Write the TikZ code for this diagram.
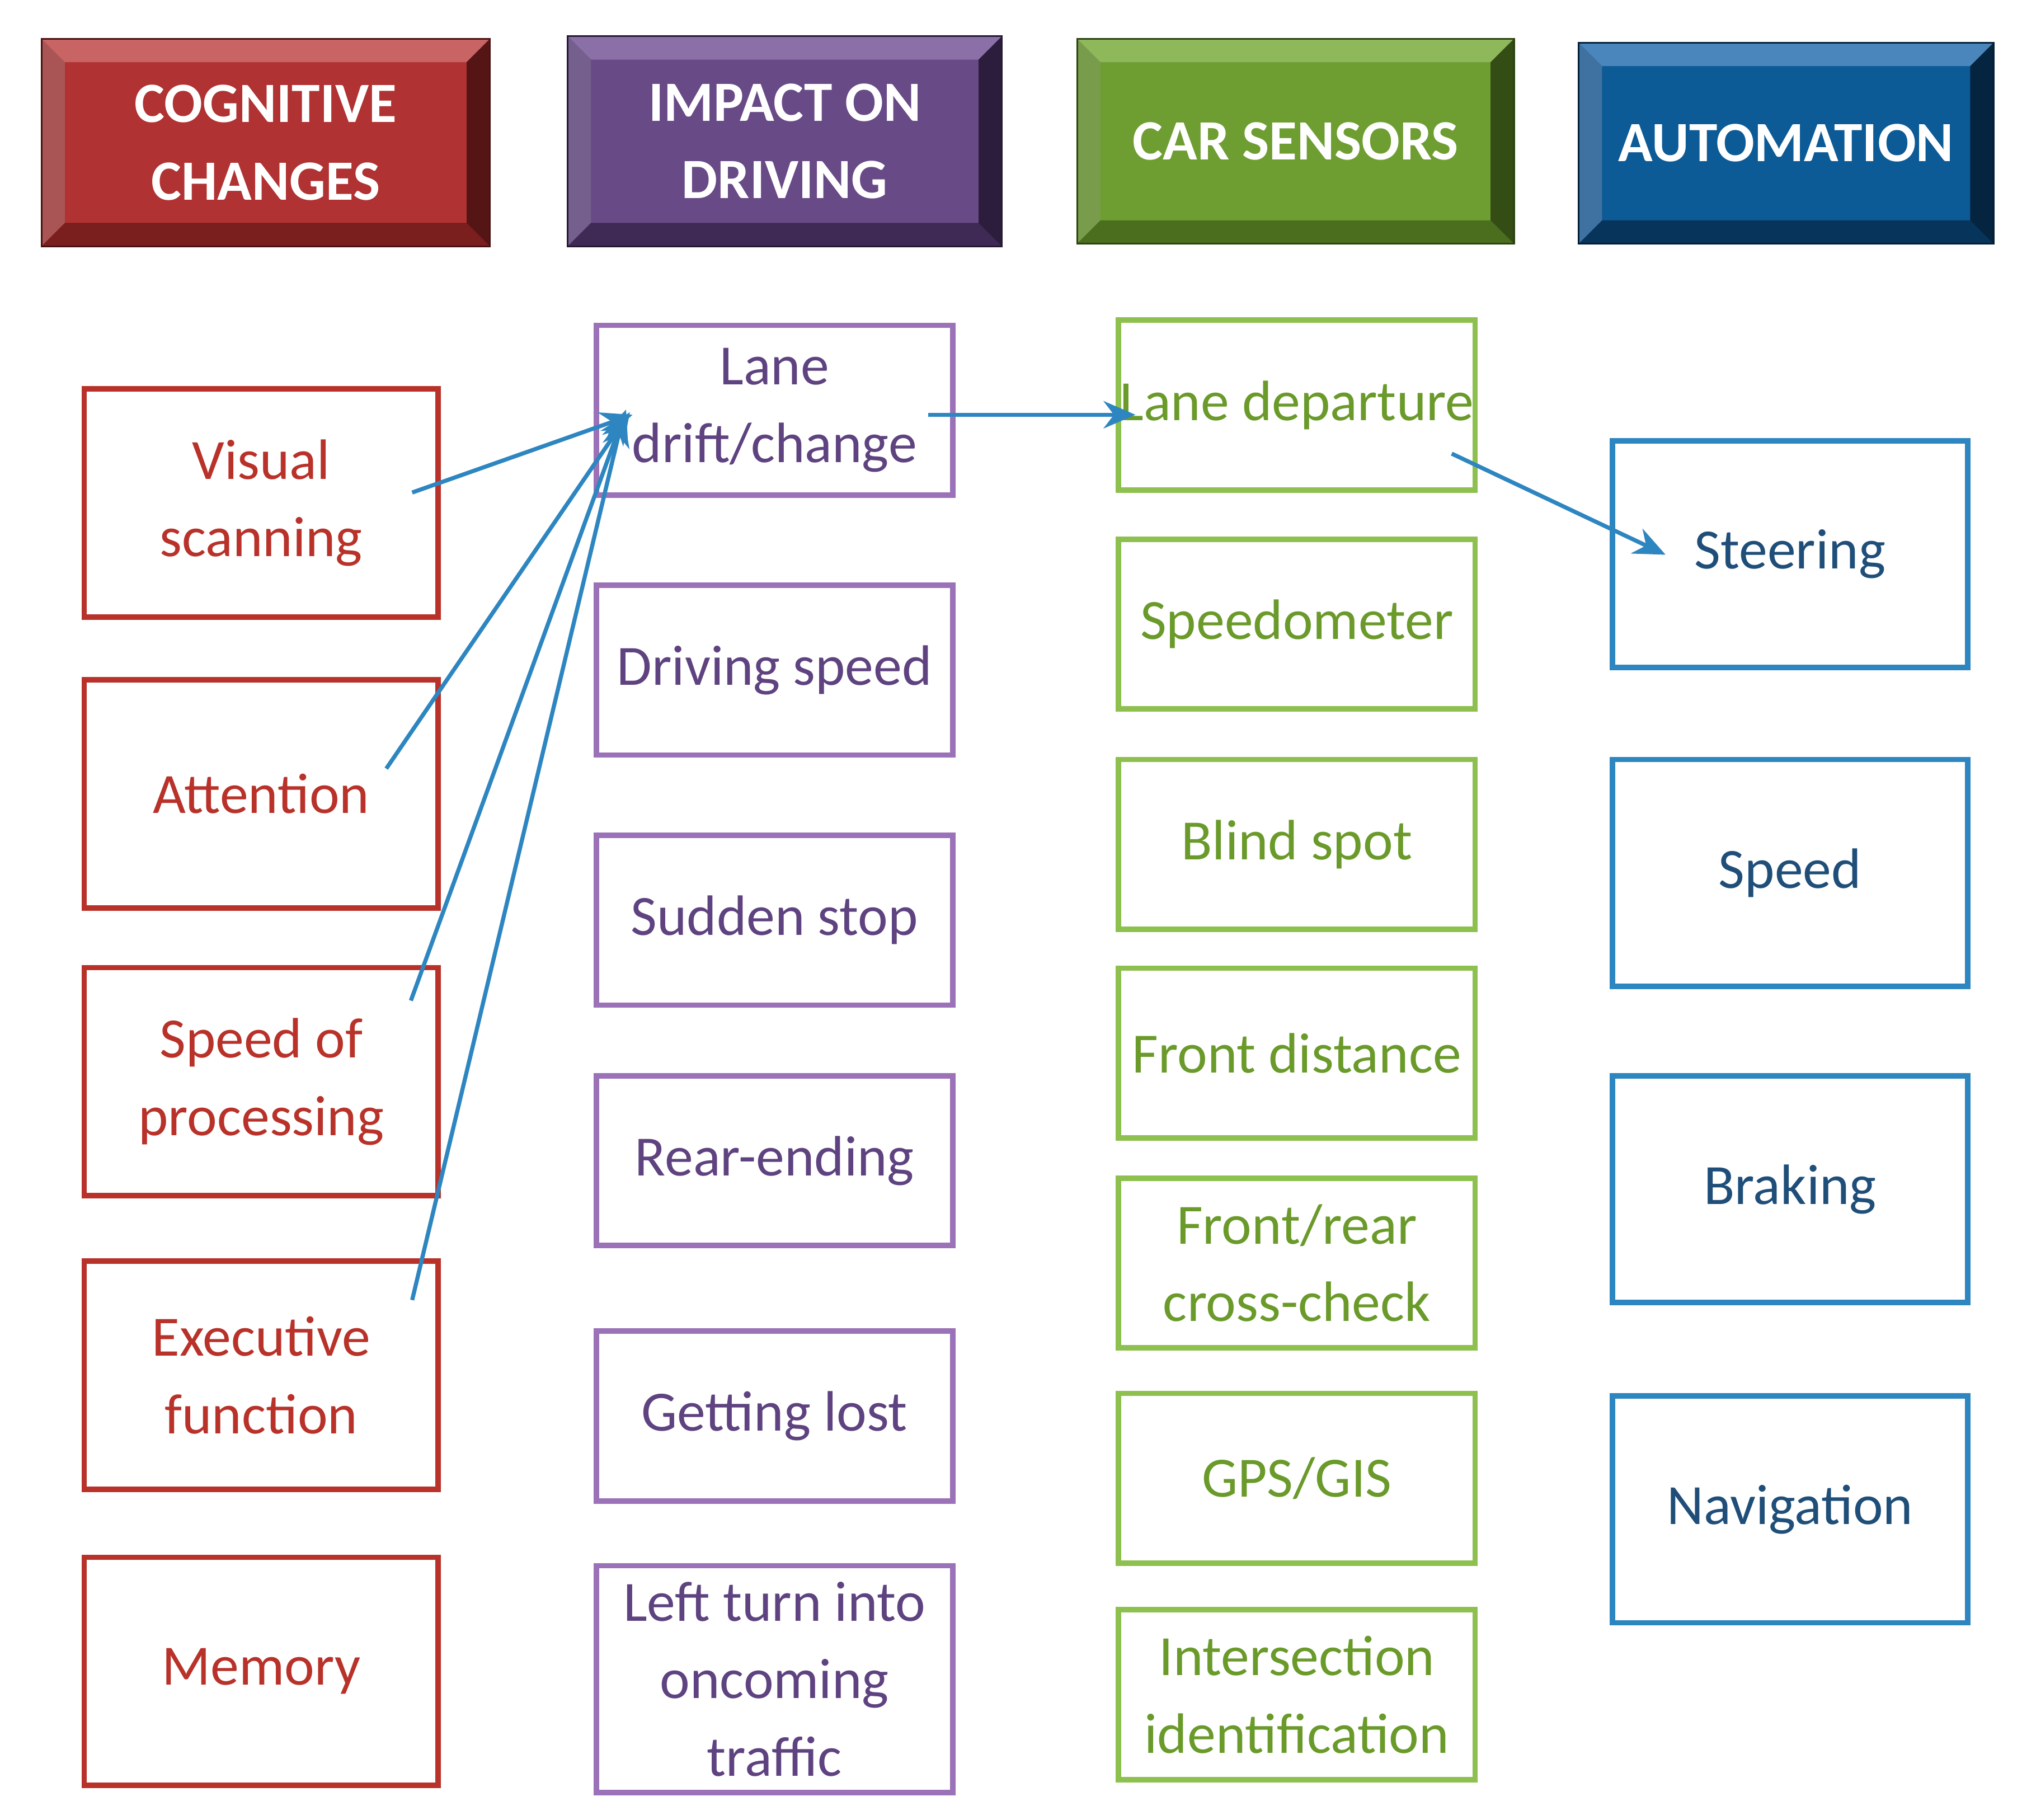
\documentclass[tikz,border=0pt]{standalone}
\usepackage{fontspec}
\setmainfont{Carlito}
\usetikzlibrary{arrows.meta}
\definecolor{rtxt}{HTML}{B8322A}\definecolor{rbrd}{HTML}{B8322A}
\definecolor{ptxt}{HTML}{5E4380}\definecolor{pbrd}{HTML}{9B72B8}
\definecolor{gtxt}{HTML}{6A9A2A}\definecolor{gbrd}{HTML}{8DC04F}
\definecolor{btxt}{HTML}{1F4E79}\definecolor{bbrd}{HTML}{2E86C1}
\definecolor{arr}{HTML}{2E86C1}
\definecolor{rf}{HTML}{B03232}\definecolor{rl}{HTML}{C86464}\definecolor{rd}{HTML}{7A1E1E}
\definecolor{pf}{HTML}{684A86}\definecolor{pl}{HTML}{8A70A6}\definecolor{pd}{HTML}{3E2A55}
\definecolor{gf}{HTML}{6E9E32}\definecolor{gl}{HTML}{8EB85A}\definecolor{gd}{HTML}{4A6E1E}
\definecolor{bf}{HTML}{0C5A96}\definecolor{bl}{HTML}{4A86BC}\definecolor{bd}{HTML}{07345A}
\tikzset{
 box/.style={draw,line width=1.2pt,align=center,inner sep=0pt,font=\fontsize{12.5}{17}\selectfont},
 rbox/.style={box,draw=rbrd,text=rtxt,minimum width=2.73cm,minimum height=1.76cm},
 pbox/.style={box,draw=pbrd,text=ptxt,minimum width=2.75cm,minimum height=1.31cm},
 gbox/.style={box,draw=gbrd,text=gtxt,minimum width=2.75cm,minimum height=1.31cm},
 bbox/.style={box,draw=bbrd,text=btxt,minimum width=2.74cm,minimum height=1.75cm},
 hd/.style={text=white,align=center,font=\bfseries\fontsize{12.5}{17}\selectfont},
 ar/.style={draw=arr,line width=0.9pt,-{Stealth[length=7pt,width=6pt]}}
}
\newcommand{\hdr}[9]{%
 \fill[#6] (#2,#3) rectangle (#4,#5);
 \fill[#7] (#2,#3)--(#4,#3)--(#4-0.18,#3-0.18)--(#2+0.18,#3-0.18)--cycle;
 \fill[#7!85!black] (#2,#3)--(#2+0.18,#3-0.18)--(#2+0.18,#5+0.18)--(#2,#5)--cycle;
 \fill[#8] (#2,#5)--(#4,#5)--(#4-0.18,#5+0.18)--(#2+0.18,#5+0.18)--cycle;
 \fill[#8!70!black] (#4,#3)--(#4,#5)--(#4-0.18,#5+0.18)--(#4-0.18,#3-0.18)--cycle;
 \draw[#8!60!black,line width=0.4pt] (#2,#3) rectangle (#4,#5);
 \node[hd] (#1) at ({(#2+#4)/2},{(#3+#5)/2}) {#9};}
\begin{document}
\begin{tikzpicture}
\useasboundingbox (0,0) rectangle (15.6,-14.04);
\hdr{h1}{0.32}{-0.30}{3.78}{-1.90}{rf}{rl}{rd}{COGNITIVE\\CHANGES}
\hdr{h2}{4.38}{-0.28}{7.73}{-1.90}{pf}{pl}{pd}{IMPACT ON\\DRIVING}
\hdr{h3}{8.31}{-0.30}{11.68}{-1.88}{gf}{gl}{gd}{CAR SENSORS}
\hdr{h4}{12.18}{-0.33}{15.38}{-1.88}{bf}{bl}{bd}{AUTOMATION}

\node[rbox] (r1) at (2.015,-3.88) {Visual\\scanning};
\node[rbox] (r2) at (2.015,-6.125) {Attention};
\node[rbox] (r3) at (2.015,-8.345) {Speed of\\processing};
\node[rbox] (r4) at (2.015,-10.61) {Executive\\function};
\node[rbox] (r5) at (2.015,-12.895) {Memory};

\node[pbox] (p1) at (5.975,-3.165) {Lane\\drift/change};
\node[pbox] (p2) at (5.975,-5.17) {Driving speed};
\node[pbox] (p3) at (5.975,-7.10) {Sudden stop};
\node[pbox] (p4) at (5.975,-8.955) {Rear-ending};
\node[pbox] (p5) at (5.975,-10.925) {Getting lost};
\node[pbox,minimum height=1.75cm] (p6) at (5.975,-12.955) {Left turn into\\oncoming\\traffic};

\node[gbox] (g1) at (10.005,-3.125) {Lane departure};
\node[gbox] (g2) at (10.005,-4.815) {Speedometer};
\node[gbox] (g3) at (10.005,-6.515) {Blind spot};
\node[gbox] (g4) at (10.005,-8.125) {Front distance};
\node[gbox] (g5) at (10.005,-9.745) {Front/rear\\cross-check};
\node[gbox] (g6) at (10.005,-11.405) {GPS/GIS};
\node[gbox] (g7) at (10.005,-13.075) {Intersection\\identification};

\node[bbox] (b1) at (13.81,-4.275) {Steering};
\node[bbox] (b2) at (13.81,-6.735) {Speed};
\node[bbox] (b3) at (13.81,-9.175) {Braking};
\node[bbox] (b4) at (13.81,-11.645) {Navigation};

\coordinate (s1) at (3.18,-3.80);
\coordinate (s2) at (2.98,-5.93);
\coordinate (s3) at (3.17,-7.72);
\coordinate (s4) at (3.18,-10.03);
\coordinate (t1) at (4.88,-3.20);
\coordinate (t2) at (4.86,-3.18);
\coordinate (t3) at (4.83,-3.16);
\coordinate (t4) at (4.81,-3.20);
\coordinate (s5) at (7.16,-3.20);
\coordinate (t5) at (8.76,-3.20);
\coordinate (s6) at (11.20,-3.50);
\coordinate (t6) at (12.85,-4.28);
\draw[ar] (s1) -- (t1);
\draw[ar] (s2) -- (t2);
\draw[ar] (s3) -- (t3);
\draw[ar] (s4) -- (t4);
\draw[ar] (s5) -- (t5);
\draw[ar] (s6) -- (t6);
\end{tikzpicture}
\end{document}
